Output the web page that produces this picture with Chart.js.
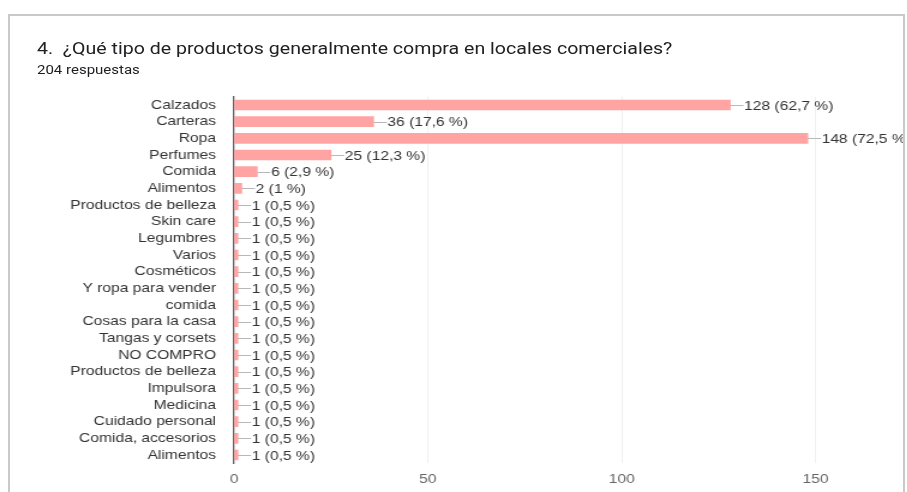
<!DOCTYPE html>
<html>
<head>
<meta charset="utf-8">
<script src="https://cdn.jsdelivr.net/npm/chart.js@4"></script>
<style>
  html, body { margin: 0; padding: 0; background: #fff; overflow: hidden; width: 907px; height: 492px; }
  #card { position: absolute; left: 8px; top: 14px; width: 893px; height: 520px; border: 2px solid #c9c9c9; overflow: hidden; background: #fff; }
  #wrap { position: absolute; left: -10px; top: -16px; width: 860px; height: 492px; transform: scaleX(1.2); transform-origin: 0 0; }
  #c { display: block; }
  #title { position: absolute; left: 37px; top: 38px; font-family: Roboto, "Noto Sans", sans-serif; font-size: 17px; color: #202124; white-space: pre; transform: scaleX(1.15); transform-origin: 0 0; }
  #sub { position: absolute; left: 37px; top: 62px; font-family: Roboto, "Noto Sans", sans-serif; font-size: 12.5px; color: #202124; white-space: pre; transform: scaleX(1.2); transform-origin: 0 0; }
</style>
</head>
<body>
<div id="card"><div id="wrap"><canvas id="c" width="860" height="492"></canvas></div></div>
<div id="title">4.  ¿Qué tipo de productos generalmente compra en locales comerciales?</div>
<div id="sub">204 respuestas</div>
<script>
const categories = ["Calzados","Carteras","Ropa","Perfumes","Comida","Alimentos","Productos de belleza","Skin care","Legumbres","Varios","Cosméticos","Y ropa para vender","comida","Cosas para la casa","Tangas y corsets","NO COMPRO","Productos de belleza","Impulsora","Medicina","Cuidado personal","Comida, accesorios","Alimentos"];
const counts = [128,36,148,25,6,2,1,1,1,1,1,1,1,1,1,1,1,1,1,1,1,1];
const percents = ["62,7","17,6","72,5","12,3","2,9","1","0,5","0,5","0,5","0,5","0,5","0,5","0,5","0,5","0,5","0,5","0,5","0,5","0,5","0,5","0,5","0,5"];
const xTicks = [0,50,100,150,200];

const fontFamily = '"Liberation Sans", Arial, sans-serif';

const valueLabels = {
  id: 'valueLabels',
  afterDatasetsDraw(chart) {
    const ctx = chart.ctx;
    const meta = chart.getDatasetMeta(0);
    ctx.save();
    ctx.font = '13px ' + fontFamily;
    ctx.textBaseline = 'middle';
    ctx.textAlign = 'left';
    meta.data.forEach((bar, i) => {
      const x = bar.x, y = bar.y;
      ctx.strokeStyle = '#b8b8b8';
      ctx.lineWidth = 1;
      ctx.beginPath();
      ctx.moveTo(x, Math.round(y) + 0.5);
      ctx.lineTo(x + 11, Math.round(y) + 0.5);
      ctx.stroke();
      ctx.fillStyle = '#333333';
      ctx.fillText(counts[i] + ' (' + percents[i] + ' %)', x + 11.5, y + 1);
    });
    ctx.restore();
  }
};

new Chart(document.getElementById('c'), {
  type: 'bar',
  data: {
    labels: categories,
    datasets: [{
      data: counts,
      backgroundColor: '#ffa3a3',
      borderWidth: 0,
      barThickness: 10
    }]
  },
  options: {
    indexAxis: 'y',
    responsive: false,
    animation: false,
    devicePixelRatio: 1,
    layout: { padding: { left: 0, top: 96.67, right: 17.2, bottom: 0 } },
    plugins: { legend: { display: false }, tooltip: { enabled: false }, title: { display: false } },
    scales: {
      x: {
        min: 0, max: 200,
        afterBuildTicks(scale) { scale.ticks = xTicks.map(v => ({ value: v })); },
        afterFit(scale) { scale.height = 28.67; },
        grid: {
          drawTicks: false,
          color: ctx => (ctx.tick && ctx.tick.value === 0) ? 'rgba(0,0,0,0)' : '#efefef',
          lineWidth: 1
        },
        border: { display: false },
        ticks: { padding: 8, color: '#666666', font: { family: fontFamily, size: 13 } }
      },
      y: {
        afterFit(scale) { scale.width = 195; },
        grid: { display: false, drawTicks: false },
        border: { display: true, color: '#5f5f5f', width: 1.3 },
        ticks: { padding: 15, autoSkip: false, color: '#333333', font: { family: fontFamily, size: 13 } }
      }
    }
  },
  plugins: [valueLabels]
});
</script>
</body>
</html>
